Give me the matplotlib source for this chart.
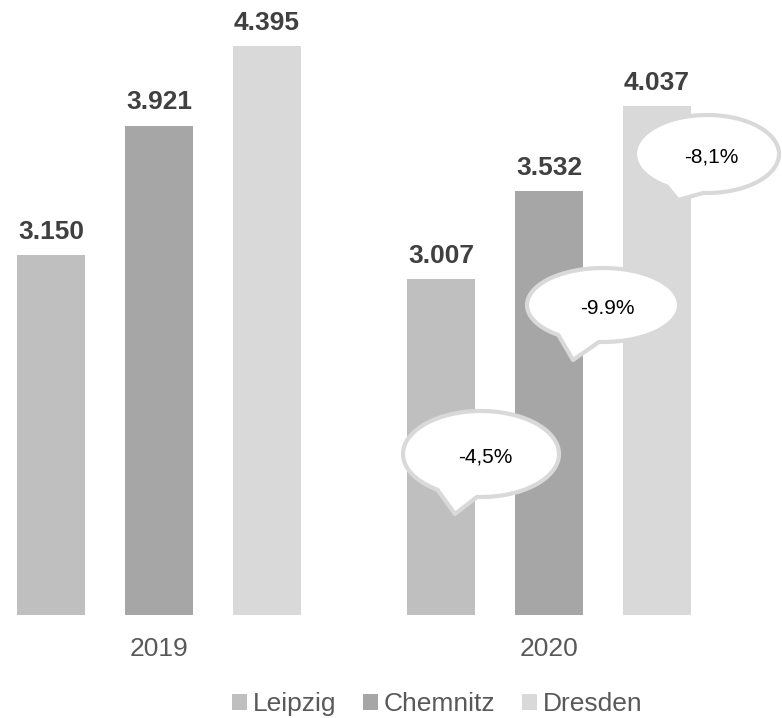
import numpy as np
import matplotlib
matplotlib.use('Agg')
import matplotlib.pyplot as plt
from matplotlib.patches import Polygon

plt.rcParams['font.family'] = ['Liberation Sans', 'DejaVu Sans']

years = ['2019', '2020']
cities = ['Leipzig', 'Chemnitz', 'Dresden']
values = {
    'Leipzig': [3150, 3007],
    'Chemnitz': [3921, 3532],
    'Dresden': [4395, 4037],
}
colors = {'Leipzig': '#bfbfbf', 'Chemnitz': '#a6a6a6', 'Dresden': '#d9d9d9'}
changes = ['-4,5%', '-9.9%', '-8,1%']


def fmt(v):
    return f'{v:,}'.replace(',', '.')


def bubble(ax, cx, cy, rx, ry, tip, gap, text):
    # speech bubble in pixel coords (y down)
    a1, a2 = np.radians(gap[0]), np.radians(gap[1])
    th = np.linspace(a2, a1 + 2 * np.pi, 200)
    pts = np.column_stack([cx + rx * np.cos(th), cy + ry * np.sin(th)])
    pts = np.vstack([pts, [tip]])
    ax.add_patch(Polygon(pts, closed=True, facecolor='white', edgecolor='#d9d9d9',
                         lw=3, joinstyle='round', zorder=5))
    ax.text(cx + 4, cy + 3, text, ha='center', va='center', fontsize=15,
            color='black', zorder=6)


W, H = 782, 718
fig = plt.figure(figsize=(W / 100, H / 100), dpi=100)
bottom_px = 615
ax = fig.add_axes([0, (H - bottom_px) / H, 1, bottom_px / H])

x = np.arange(len(years))
width = 68 / 390
offsets = np.array([-1, 0, 1]) * 108 / 390
for i, c in enumerate(cities):
    bars = ax.bar(x + offsets[i], values[c], width, color=colors[c], label=c)
    for b, v in zip(bars, values[c]):
        ax.annotate(fmt(v), (b.get_x() + b.get_width() / 2, v), xytext=(0, 8),
                    textcoords='offset points', ha='center', va='bottom',
                    fontsize=19, fontweight='bold', color='#404040')

ax.set_xlim(-159 / 390, 623 / 390)
ax.set_ylim(1006, 4669)
ax.set_xticks(x)
ax.set_xticklabels(years, fontsize=19, color='#595959')
ax.tick_params(axis='x', length=0, pad=16)
ax.set_yticks([])
for s in ax.spines.values():
    s.set_visible(False)

fig.legend(loc='center', bbox_to_anchor=(437 / W, 1 - 704 / H), ncol=3,
           frameon=False, fontsize=19, labelcolor='#595959',
           handlelength=0.57, handleheight=0.57, handletextpad=0.22,
           columnspacing=1.0)

ov = fig.add_axes([0, 0, 1, 1], facecolor='none')
ov.set_xlim(0, W)
ov.set_ylim(H, 0)
ov.axis('off')
bubble(ov, 481, 454, 78, 43, (455, 514), (93, 124), changes[0])
bubble(ov, 603, 305, 76, 37, (573, 360), (93, 126), changes[1])
bubble(ov, 707, 154, 72, 39, (678, 200), (93, 124), changes[2])

fig.savefig('out.png', dpi=100)
